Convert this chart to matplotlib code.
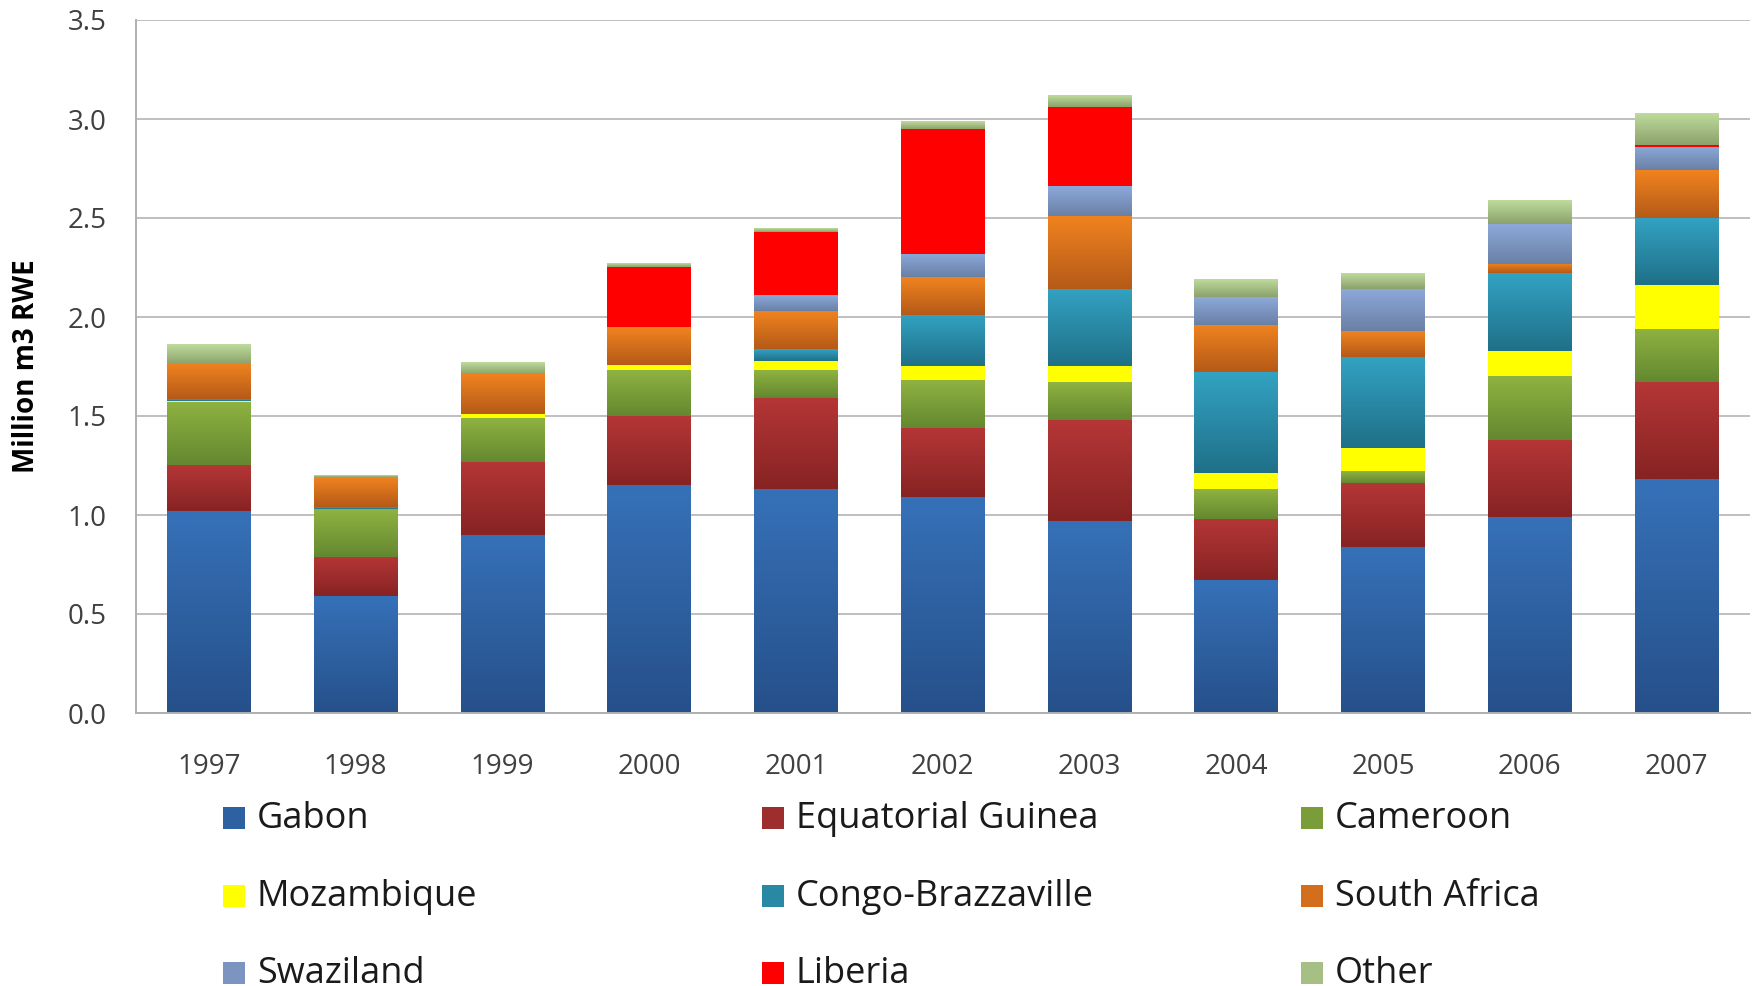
import numpy as np
import matplotlib
matplotlib.use("Agg")
import matplotlib.pyplot as plt
from matplotlib.colors import to_rgb
from matplotlib.patches import Rectangle

plt.rcParams["font.family"] = ["Open Sans", "DejaVu Sans"]

years = ["1997", "1998", "1999", "2000", "2001", "2002", "2003", "2004", "2005", "2006", "2007"]

gabon = [1.02, 0.59, 0.90, 1.15, 1.13, 1.09, 0.97, 0.67, 0.84, 0.99, 1.18]
equatorial_guinea = [0.23, 0.20, 0.37, 0.35, 0.46, 0.35, 0.51, 0.31, 0.32, 0.39, 0.49]
cameroon = [0.32, 0.24, 0.22, 0.23, 0.14, 0.24, 0.19, 0.15, 0.06, 0.32, 0.27]
mozambique = [0.005, 0.0, 0.02, 0.03, 0.05, 0.07, 0.08, 0.08, 0.12, 0.13, 0.22]
congo = [0.01, 0.01, 0.0, 0.0, 0.06, 0.26, 0.39, 0.51, 0.46, 0.39, 0.34]
south_africa = [0.18, 0.15, 0.20, 0.19, 0.19, 0.19, 0.37, 0.24, 0.13, 0.05, 0.24]
swaziland = [0.0, 0.0, 0.0, 0.0, 0.08, 0.12, 0.15, 0.14, 0.21, 0.20, 0.12]
liberia = [0.0, 0.0, 0.0, 0.30, 0.32, 0.63, 0.40, 0.0, 0.0, 0.0, 0.01]
other = [0.10, 0.01, 0.06, 0.02, 0.02, 0.04, 0.06, 0.09, 0.08, 0.12, 0.16]

series_names = ["Gabon", "Equatorial Guinea", "Cameroon", "Mozambique", "Congo-Brazzaville",
                "South Africa", "Swaziland", "Liberia", "Other"]
series_values = [gabon, equatorial_guinea, cameroon, mozambique, congo,
                 south_africa, swaziland, liberia, other]
# (top colour, bottom colour) of each segment's vertical gradient
series_colors = [("#3671b8", "#26508a"), ("#b53636", "#872323"), ("#8fb241", "#648830"),
                 ("#ffff00", "#ffff00"), ("#33a2c2", "#1f7088"), ("#f0831f", "#b55a18"),
                 ("#8ca9da", "#6a80a6"), ("#ff0000", "#ff0000"), ("#bedb9c", "#8ca26c")]

W, H = 1756, 986
fig = plt.figure(figsize=(W / 100, H / 100), dpi=100)
ax = fig.add_axes([135.5 / W, 1 - 713 / H, (1750 - 135.5) / W, (713 - 20) / H])

x = np.arange(len(years))
bottoms = np.zeros(len(years))
for vals, (top, bot) in zip(series_values, series_colors):
    vals = np.array(vals)
    c_top, c_bot = np.array(to_rgb(top)), np.array(to_rgb(bot))
    mid = (c_top + c_bot) / 2
    bars = ax.bar(x, vals, bottom=bottoms, width=0.57, color=mid, edgecolor="none", zorder=2)
    grad = np.linspace(0, 1, 64)[:, None, None] * (c_top - c_bot) + c_bot
    for rect in bars:
        if rect.get_height() <= 0:
            continue
        x0, y0 = rect.get_x(), rect.get_y()
        ax.imshow(grad, extent=(x0, x0 + rect.get_width(), y0, y0 + rect.get_height()),
                  origin="lower", aspect="auto", interpolation="bilinear", zorder=2.1)
    bottoms += vals

ax.set_xlim(-0.5, len(years) - 0.5)
ax.set_ylim(0, 3.5)
ax.set_yticks(np.arange(0, 3.51, 0.5))
ax.set_yticklabels([f"{v:.1f}" for v in np.arange(0, 3.51, 0.5)])
ax.set_xticks(x)
ax.set_xticklabels(years)
ax.tick_params(axis="both", length=0, labelsize=20, labelcolor="#404040")
ax.tick_params(axis="y", pad=21)
ax.tick_params(axis="x", pad=29)
ax.grid(axis="y", color="#bfbfbf", linewidth=1.4, zorder=0)
ax.set_axisbelow(True)
for side in ["top", "right"]:
    ax.spines[side].set_visible(False)
for side in ["left", "bottom"]:
    ax.spines[side].set_color("#b0b0b0")
    ax.spines[side].set_linewidth(1.4)

fig.text(27 / W, 1 - 366 / H, "Million m3 RWE", rotation=90, fontsize=20, fontweight="bold",
         ha="center", va="center")

# legend: three columns, filled row by row
col_left = [223, 762, 1301]
row_y = [819, 897, 974]
for i, (name, (top, bot)) in enumerate(zip(series_names, series_colors)):
    px, py = col_left[i % 3], row_y[i // 3]
    c = (np.array(to_rgb(top)) + np.array(to_rgb(bot))) / 2
    fig.add_artist(Rectangle((px / W, 1 - (py + 10) / H), 22 / W, 22 / H,
                             transform=fig.transFigure, facecolor=c, edgecolor="none"))
    fig.text((px + 34) / W, 1 - py / H, name, fontsize=26, color="#1a1a1a",
             ha="left", va="center")

fig.savefig("out.png", dpi=100, facecolor="white")
